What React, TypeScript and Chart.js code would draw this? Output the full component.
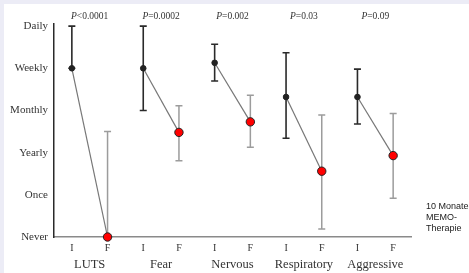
import React, { useEffect, useRef } from "react";
import { Chart, registerables } from "chart.js";
Chart.register(...registerables);

const groups = ["LUTS", "Fear", "Nervous", "Respiratory", "Aggressive"];
const pValues = ["<0.0001", "=0.0002", "=0.002", "=0.03", "=0.09"];
const frequencyLabels = ["Never", "Once", "Yearly", "Monthly", "Weekly", "Daily"];
const timeLabels = ["I", "F"];
const initialMean = [4, 4, 4.13, 3.32, 3.32];
const initialLow = [4, 3, 3.7, 2.34, 2.68];
const initialHigh = [5, 5, 4.57, 4.37, 3.98];
const finalMean = [0, 2.48, 2.73, 1.56, 1.93];
const finalLow = [0, 1.81, 2.13, 0.19, 0.92];
const finalHigh = [2.5, 3.11, 3.36, 2.89, 2.93];
const sideNote = ["10 Monate", "MEMO-", "Therapie"];

const SERIF = "'Liberation Serif', 'Times New Roman', serif";

const overlay = {
  id: "overlay",
  beforeDatasetsDraw(chart: any) {
    const { ctx, scales } = chart;
    const x = scales.x;
    const y = scales.y;
    const bar = (xv: number, lo: number, hi: number, color: string, w: number) => {
      const px = x.getPixelForValue(xv);
      const p1 = y.getPixelForValue(lo);
      const p2 = y.getPixelForValue(hi);
      ctx.save();
      ctx.strokeStyle = color;
      ctx.lineWidth = w;
      ctx.beginPath();
      ctx.moveTo(px, p1);
      ctx.lineTo(px, p2);
      ctx.moveTo(px - 3.5, p1);
      ctx.lineTo(px + 3.5, p1);
      ctx.moveTo(px - 3.5, p2);
      ctx.lineTo(px + 3.5, p2);
      ctx.stroke();
      ctx.restore();
    };
    groups.forEach((_, g) => {
      bar(2 * g, initialLow[g], initialHigh[g], "#2a2a2a", 1.6);
      bar(2 * g + 1, finalLow[g], finalHigh[g], "#9c9c9c", 1.5);
    });
  },
  afterDraw(chart: any) {
    const { ctx, scales } = chart;
    const x = scales.x;
    ctx.save();
    ctx.fillStyle = "#333";
    ctx.textBaseline = "middle";
    groups.forEach((name, g) => {
      const cx = x.getPixelForValue(2 * g + 0.5);
      ctx.font = `12.5px ${SERIF}`;
      ctx.textAlign = "center";
      ctx.fillText(name, cx, 265);
      const fi = `italic 9.5px ${SERIF}`;
      const fn = `9.5px ${SERIF}`;
      ctx.font = fi;
      const wP = ctx.measureText("P").width;
      ctx.font = fn;
      const wR = ctx.measureText(pValues[g]).width;
      const start = cx - (wP + wR) / 2;
      ctx.textAlign = "left";
      ctx.font = fi;
      ctx.fillText("P", start, 16);
      ctx.font = fn;
      ctx.fillText(pValues[g], start + wP, 16);
    });
    ctx.restore();
  },
};

export default function App() {
  const ref = useRef<HTMLCanvasElement>(null);
  useEffect(() => {
    if (!ref.current) return;
    const datasets = groups.map((name, g) => ({
      label: name,
      data: [
        { x: 2 * g, y: initialMean[g] },
        { x: 2 * g + 1, y: finalMean[g] },
      ],
      borderColor: "#777",
      borderWidth: 1.2,
      pointBackgroundColor: ["#222", "#ff0000"],
      pointBorderColor: ["#222", "#222"],
      pointBorderWidth: [1, 1],
      pointRadius: [2.8, 4.2],
      showLine: true,
      clip: false as any,
    }));
    const chart = new Chart(ref.current, {
      type: "scatter",
      data: { datasets },
      options: {
        animation: false,
        responsive: false,
        layout: { padding: { top: 24, right: 58, left: 0, bottom: 0 } },
        plugins: { legend: { display: false }, tooltip: { enabled: false } },
        scales: {
          x: {
            type: "linear",
            min: -0.5,
            max: 9.5,
            grid: { display: false, drawTicks: false },
            border: { display: true, color: "#8a8a8a", width: 1.5 },
            afterBuildTicks: (s: any) => {
              s.ticks = Array.from({ length: groups.length * 2 }, (_, i) => ({ value: i }));
            },
            afterFit: (s: any) => {
              s.height = 36;
            },
            ticks: {
              autoSkip: false,
              maxRotation: 0,
              padding: 5,
              color: "#333",
              font: { family: SERIF, size: 10 },
              callback: (v: any) => timeLabels[Math.round(v) % 2],
            },
          },
          y: {
            type: "linear",
            min: 0,
            max: 5.05,
            grid: { display: false, drawTicks: false },
            border: { display: true, color: "#2a2a2a", width: 1.5 },
            afterBuildTicks: (s: any) => {
              s.ticks = frequencyLabels.map((_, i) => ({ value: i }));
            },
            afterFit: (s: any) => {
              s.width = 54;
            },
            ticks: {
              padding: 6,
              color: "#333",
              font: { family: SERIF, size: 11 },
              callback: (v: any) => frequencyLabels[Math.round(v)],
            },
          },
        },
      },
      plugins: [overlay],
    });
    return () => chart.destroy();
  }, []);
  return (
    <div style={{ position: "fixed", left: 0, top: 0, width: 469, height: 273, background: "#ececf6" }}>
      <div style={{ position: "absolute", left: 4, top: 4, right: 0, bottom: 0, background: "#fff" }} />
      <canvas ref={ref} width={469} height={273} style={{ position: "absolute", left: 0, top: 0 }} />
      <div
        style={{
          position: "absolute",
          left: 426,
          top: 201,
          fontFamily: "'Liberation Sans', Arial, sans-serif",
          fontSize: 9,
          lineHeight: "11px",
          color: "#222",
          whiteSpace: "nowrap",
        }}
      >
        {sideNote.map((t) => (
          <div key={t}>{t}</div>
        ))}
      </div>
    </div>
  );
}
